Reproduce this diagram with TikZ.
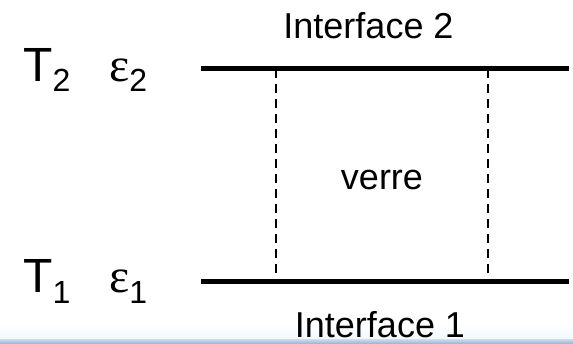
\documentclass[tikz,border=0pt]{standalone}
\usepackage{fontspec}
\setmainfont{Liberation Sans}
\newfontfamily\greekfont{Liberation Serif}
\definecolor{stripblue}{RGB}{150,176,210}
\definecolor{stripfade}{RGB}{242,248,253}
\begin{document}
\begin{tikzpicture}[x=1pt,y=-1pt,
  interface/.style={line width=5pt},
  boundary/.style={line width=2.2pt, dash pattern=on 9.5pt off 5.5pt},
  label/.style={inner sep=0pt, font=\fontsize{36}{40}\selectfont},
  sym/.style={inner sep=0pt, anchor=base west, font=\fontsize{48}{50}\selectfont}]
  \useasboundingbox (0,0) rectangle (573,344);
  % soft strip along the lower edge
  \shade[top color=white, bottom color=stripfade] (0,324) rectangle (573,340);
  \shade[top color=stripfade!50!stripblue, bottom color=stripblue] (0,340) rectangle (573,344);

  % end points of the two interfaces
  \coordinate (i2l) at (201,69);
  \coordinate (i2r) at (569,69);
  \coordinate (i1l) at (201,282);
  \coordinate (i1r) at (569,282);
  % limits of the glass slab
  \coordinate (gtl) at (276,69);
  \coordinate (gbl) at (276,282);
  \coordinate (gtr) at (488,69);
  \coordinate (gbr) at (488,282);

  \draw[boundary] (gtl) -- (gbl);
  \draw[boundary] (gtr) -- (gbr);
  \draw[interface] (i2l) -- (i2r);
  \draw[interface] (i1l) -- (i1r);

  % labels
  \node[label, anchor=base] (lab2) at (368.5,39) {Interface 2};
  \node[label, anchor=base] (lab1) at (380,337.5) {Interface 1};
  \node[label, anchor=base] (glass) at (382,190) {verre};

  \node[sym] (t2) at (23,81.7) {T\raisebox{-10.3pt}{\fontsize{32}{34}\selectfont 2}};
  \node[sym] (e2) at (109,81.7) {{\greekfont ε}\raisebox{-10.3pt}{\fontsize{32}{34}\selectfont 2}};
  \node[sym] (t1) at (23,293) {T\raisebox{-11pt}{\fontsize{32}{34}\selectfont 1}};
  \node[sym] (e1) at (109,293) {{\greekfont ε}\raisebox{-11pt}{\fontsize{32}{34}\selectfont 1}};
\end{tikzpicture}
\end{document}
